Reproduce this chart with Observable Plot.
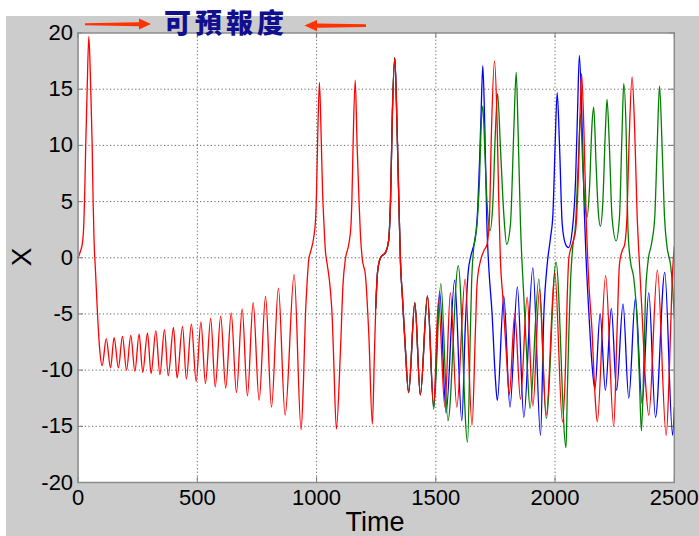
<!DOCTYPE html>
<html>
<head>
<meta charset="utf-8">
<script src="https://cdn.jsdelivr.net/npm/d3@7"></script>
<script src="https://cdn.jsdelivr.net/npm/@observablehq/plot@0.6"></script>
<style>
  html, body { margin: 0; padding: 0; background: #ffffff; }
  #wrap { position: relative; width: 699px; height: 536px; overflow: hidden; }
  #bg { position: absolute; left: 6px; top: 16px; width: 693px; height: 520px; background: #cccccc; }
  #chart { position: absolute; left: 0; top: 0; }
  #overlay { position: absolute; left: 0; top: 0; pointer-events: none; }
</style>
</head>
<body>
<div id="wrap">
  <div id="bg"></div>
  <div id="chart"></div>
  <svg id="overlay" width="699" height="536">
    <polygon points="85,23.2 139,22.2 139,18.4 151,24 139,29.6 139,26.2 85,25.2" fill="#ff3300"/>
    <polygon points="366,24.2 317,23.4 317,20 304.5,25.6 317,31.2 317,27.8 366,27" fill="#ff3300"/>
    <text x="164" y="32.5" font-family="'Noto Sans CJK TC', sans-serif" font-weight="900" font-size="27" letter-spacing="4" fill="#10108f">可預報度</text>
    <text transform="translate(31,257) rotate(-90)" text-anchor="middle" font-family="'Liberation Sans', Arial, sans-serif" font-size="28" fill="#000">X</text>
    <text x="375" y="531" text-anchor="middle" font-family="'Liberation Sans', Arial, sans-serif" font-size="27" fill="#000">Time</text>
  </svg>
</div>
<script>
// Axis ticks
const xTicks = [0, 500, 1000, 1500, 2000, 2500];
const yTicks = [-20, -15, -10, -5, 0, 5, 10, 15, 20];
const xGrid = [500, 1000, 1500, 2000];
const yGrid = [-15, -10, -5, 0, 5, 10, 15];

// Common trajectory before divergence (drawn in red, other runs hidden beneath it) : [time, X]
const shared = [
  [0,0],[10,0.6],[18,1.3],[24,3],[28,6],[32,10],[38,15],[45,19.7],[53,15],[59,10],[63,5],[67,1.5],[73,-1.2],[80,-4.4],[90,-8],[101,-9.6],
  [118,-7.2],[136,-9.8],[151,-7.1],[169,-9.8],[186,-7.0],[203,-10.0],[221,-6.9],[238,-10.1],[256,-6.8],[271,-10.2],[291,-6.7],[306,-10.3],
  [326,-6.5],[343,-10.4],[362,-6.4],[378,-10.5],[400,-6.2],[415,-10.7],[438,-6.1],[454,-10.8],[475,-5.9],[495,-11.0],[515,-5.7],[534,-11.2],
  [556,-5.4],[575,-11.5],[598,-5.2],[619,-11.6],[642,-4.9],[664,-12.0],[688,-4.55],[710,-12.3],[734,-4.0],[759,-12.7],[786,-3.45],[811,-13.3],
  [840,-2.7],[868,-14.0],[906,-1.5],[935,-15.3],
  [945,-11],[953,-5.3],[960,-2.3],[967,-0.2],[977,0.7],[988,1.8],[996,3.5],[1000,6],[1005,11],[1012,15.6],[1019,11],[1025,6],[1031,3],
  [1037,0.6],[1044,-0.5],[1058,-2.9],[1066,-5.5],[1072,-9.2],[1083,-15.25],
  [1100,-8.3],[1111,-2.3],[1121,-0.1],[1135,1.2],[1144,2.8],[1148,5],[1153,10],[1162,15.8],[1170,10],[1178,5],[1184,2],[1191,0],
  [1205,-1.6],[1219,-6.8],[1234,-14.8],[1242,-9],[1248,-4.5],[1256,-1.2],[1268,0]
];
// Start of the three runs, still nearly together
const nearShared = [
  [1290,0.5],[1302,1.5],[1310,5],[1318,13],[1328,17.8],[1337,12],[1345,5],[1352,-0.5],
  [1360,-3.5],[1372,-8],[1386,-12.0],[1412,-4.0],[1435,-12.2],[1465,-3.4]
];

// Diverging runs after t ≈ 1490
const redTail = [
  [1491,-13.1],[1511,-3.8],[1538,-13.3],[1561,-3.1],[1588,-13.3],[1623,-1.9],[1652,-14.9],[1666,-6.5],[1673,-2.3],[1687,-0.3],
  [1701,0.6],[1715,1.2],[1725,3.6],[1733,11],[1746,17.5],[1757,12],[1764,5],[1771,-0.3],[1781,-3.5],[1797,-9],[1808,-12.2],
  [1831,-5.0],[1855,-12.6],[1883,-3.5],[1907,-13.2],[1935,-2.8],[1963,-14.0],[1999,-1.3],[2031,-14.6],[2044,-9.5],[2051,-3.5],
  [2058,0],[2072,1.2],[2086,2.4],[2097,6.9],[2105,12.8],[2111,16.4],[2121,11.3],[2130,3.9],[2141,-2.0],[2155,-6.5],[2167,-12],
  [2177,-14.6],[2212,-1.6],[2246,-15.0],[2260,-6.5],[2270,-0.6],[2281,0.6],[2292,1.2],[2302,3.9],[2310,10],[2323,16.1],[2334,11.3],
  [2344,3.9],[2354,-0.6],[2365,-5.0],[2379,-11],[2393,-14.0],[2429,-1.1],[2466,-15.8],[2480,-9.5],[2491,-2],[2500,1.0]
];
const greenTail = [
  [1491,-13.5],[1521,-2.3],[1551,-14.5],[1594,-0.7],[1633,-16.4],[1645,-6.5],[1650,-2.3],[1659,0.9],[1673,3.0],[1683,6.9],[1691,12.2],
  [1697,13.5],[1705,9.8],[1715,4.8],[1727,2.4],[1739,4.8],[1750,11.3],[1759,14.6],[1771,9.8],[1785,3.9],[1797,1.2],[1813,3.0],
  [1827,11.3],[1837,16.5],[1845,11.3],[1855,3],[1869,-3.5],[1883,-9.5],[1895,-13.4],[1932,-1.9],[1963,-14.3],[2004,-0.4],[2046,-16.9],
  [2051,-12.4],[2058,-6.5],[2065,-2],[2074,0.9],[2086,3],[2097,8.3],[2107,12.8],[2116,8.3],[2125,4.8],[2134,3.6],[2144,6],[2155,11.9],
  [2162,13.4],[2172,8.3],[2181,4.2],[2190,2.8],[2200,4.8],[2211,11.3],[2218,14.1],[2228,9.8],[2239,3.6],[2256,1.5],[2270,3.6],
  [2281,11.3],[2288,15.5],[2298,11.3],[2306,2.4],[2316,-0.3],[2330,-1.8],[2344,-5.6],[2354,-11],[2362,-15.4],[2372,-9.5],[2379,-3.5],
  [2390,-0.3],[2404,1.2],[2418,3.6],[2428,9.8],[2438,15.3],[2449,9.8],[2459,3.6],[2470,0.9],[2484,-0.6],[2494,-2.9],[2500,-5.4]
];
const blueTail = [
  [1491,-13.3],[1516,-3.0],[1543,-13.8],[1579,-2.0],[1609,-14.5],[1624,-5.9],[1636,-1.2],[1645,0],[1655,0.8],[1666,1.8],[1676,4.5],
  [1684,9],[1690,13],[1697,17.1],[1705,12],[1714,3],[1722,-0.8],[1736,-5],[1749,-10.5],[1758,-12.7],[1785,-3.4],[1811,-13.3],
  [1842,-2.6],[1869,-14.2],[1907,-0.9],[1939,-15.8],[1953,-5.0],[1967,-0.6],[1981,1.8],[1991,3.9],[2000,9.8],[2009,14.7],[2019,9.8],
  [2030,3.0],[2044,1.2],[2056,0.9],[2072,2.4],[2086,6.9],[2094,12.8],[2102,18.0],[2114,11.3],[2123,3.9],[2130,0],[2142,-5.0],
  [2155,-9.5],[2167,-11.7],[2189,-5.0],[2211,-11.8],[2236,-4.5],[2258,-11.8],[2285,-4.1],[2309,-12.5],[2337,-3.6],[2365,-13.0],
  [2393,-3.1],[2421,-14.2],[2460,-1.3],[2493,-15.8],[2500,-13.3]
];

const toRows = (pts) => pts.map(([t, v]) => ({t, v}));
const red = toRows(shared.concat(nearShared, redTail));
const green = toRows(shared.slice(-3).concat(nearShared, greenTail));
const blue = toRows(shared.slice(-3).concat(nearShared, blueTail));

const gridStyle = {stroke: "#555", strokeWidth: 1, strokeDasharray: "1.2,2.4", strokeOpacity: 0.9};
const tickStyle = {stroke: "#777", strokeWidth: 1};
const lineStyle = {x: "t", y: "v", strokeWidth: 1.3, curve: "monotone-x"};

const chart = Plot.plot({
  width: 699,
  height: 536,
  marginLeft: 77.6,
  marginRight: 25.2,
  marginTop: 32.5,
  marginBottom: 54,
  style: {background: "transparent", fontSize: "22px", fontFamily: "'Liberation Sans', Arial, sans-serif", color: "#000", overflow: "visible"},
  x: {domain: [0, 2500], ticks: xTicks, tickSize: 0, tickPadding: 7, tickFormat: d => String(d), label: null},
  y: {domain: [-20, 20], ticks: yTicks, tickSize: 0, tickPadding: 5, tickFormat: d => String(d), label: null},
  marks: [
    Plot.frame({fill: "white", stroke: "none"}),
    Plot.ruleX(xGrid, gridStyle),
    Plot.ruleY(yGrid, gridStyle),
    Plot.ruleY(yTicks, {...tickStyle, x1: 0, x2: 22}),
    Plot.ruleY(yTicks, {...tickStyle, x1: 2478, x2: 2500}),
    Plot.ruleX(xTicks, {...tickStyle, y1: -20, y2: -19.55}),
    Plot.ruleX(xTicks, {...tickStyle, y1: 19.55, y2: 20}),
    Plot.line(blue, {...lineStyle, stroke: "#0000ff"}),
    Plot.line(green, {...lineStyle, stroke: "#008000"}),
    Plot.line(red, {...lineStyle, stroke: "#ff0000"}),
    Plot.frame({stroke: "#8c8c8c", strokeWidth: 1.5})
  ]
});
document.getElementById("chart").appendChild(chart);
</script>
</body>
</html>
